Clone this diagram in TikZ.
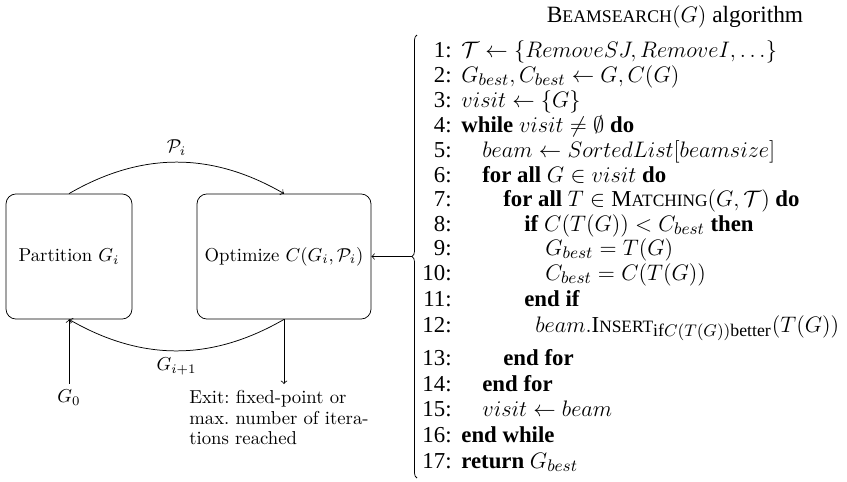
\documentclass[tikz,border=0pt]{standalone}
\usepackage{amsmath}
\usepackage[no-math]{fontspec}
\newfontfamily\algfont{Liberation Serif}
\newfontfamily\algsc[Scale=0.76]{Liberation Serif}
\usetikzlibrary{decorations.pathreplacing}
% small capitals built from full and scaled capitals
\newcommand{\smallcaps}[2]{\mbox{#1{\algsc #2}}}

\tikzset{
  box/.style={draw, rounded corners=5.3pt, minimum height=66.9pt, inner sep=0pt},
  conn/.style={->, line width=0.4pt},
  exitnote/.style={anchor=north west, inner xsep=0pt, inner ysep=3.2pt,
    align=left, font=\fontsize{10}{11}\selectfont\frenchspacing},
  algnum/.style={anchor=base east, inner sep=0pt, font=\algfont\fontsize{12.2}{14}\selectfont},
  algline/.style={anchor=base west, inner sep=0pt, font=\algfont\fontsize{12.2}{14}\selectfont},
  algtitle/.style={anchor=base, inner sep=0pt, font=\algfont\fontsize{12.5}{15}\selectfont}
}

\begin{document}
\begin{tikzpicture}[x=0.535pt, y=-0.535pt]
\useasboundingbox (0,0) rectangle (847,482);

% the iteration loop
\node[box, minimum width=67.4pt] (part) at (69,256.5) {Partition $G_i$};
\node[box, minimum width=93.1pt] (opt) at (284,256.5) {Optimize $C(G_i,\mathcal{P}_i)$};
\draw[conn] (part.north) to[bend left=30] node[above] {$\mathcal{P}_i$} (opt.north);
\draw[conn] (opt.south) to[bend left=30] node[below] {$G_{i+1}$} (part.south);
\node (g0) at (69,398) {$G_0$};
\draw[conn] (g0) -- (part.south);
\node[exitnote] (exit) at (189,384) {Exit: fixed-point or\\max. number of itera-\\tions reached};
\draw[conn] (opt.south) -- (opt.south |- exit.north);

% brace gathering the algorithm
\coordinate (brtop) at (417,35);
\coordinate (brbot) at (417,478);
\coordinate (brtip) at (412,256.5);
\draw[decorate, decoration={brace, amplitude=2.7pt}] (brbot) -- (brtop);
\draw[conn] (brtip) -- (opt.east);

% the algorithm
\node[algtitle] (title) at (675,22) {\smallcaps{B}{EAMSEARCH}$(G)$ algorithm};

\node[algnum] (n1) at (452,57) {1:};
\node[algline] (l1) at (461,57) {$\mathcal{T} \leftarrow \{RemoveSJ, RemoveI, \ldots\}$};
\node[algnum] (n2) at (452,82) {2:};
\node[algline] (l2) at (461,82) {$G_{best}, C_{best} \leftarrow G, C(G)$};
\node[algnum] (n3) at (452,107) {3:};
\node[algline] (l3) at (461,107) {$visit \leftarrow \{G\}$};
\node[algnum] (n4) at (452,132) {4:};
\node[algline] (l4) at (461,132) {\textbf{while} $visit \neq \emptyset$ \textbf{do}};
\node[algnum] (n5) at (452,157) {5:};
\node[algline] (l5) at (482,157) {$beam \leftarrow SortedList[beamsize]$};
\node[algnum] (n6) at (452,182) {6:};
\node[algline] (l6) at (482,182) {\textbf{for all} $G \in visit$ \textbf{do}};
\node[algnum] (n7) at (452,206) {7:};
\node[algline] (l7) at (503,206) {\textbf{for all} $T \in \smallcaps{M}{ATCHING}(G, \mathcal{T})$ \textbf{do}};
\node[algnum] (n8) at (452,231) {8:};
\node[algline] (l8) at (524,231) {\textbf{if} $C(T(G)) < C_{best}$ \textbf{then}};
\node[algnum] (n9) at (452,255) {9:};
\node[algline] (l9) at (545,255) {$G_{best} = T(G)$};
\node[algnum] (n10) at (452,280) {10:};
\node[algline] (l10) at (545,280) {$C_{best} = C(T(G))$};
\node[algnum] (n11) at (452,306) {11:};
\node[algline] (l11) at (524,306) {\textbf{end if}};
\node[algnum] (n12) at (452,332) {12:};
\node[algline] (l12) at (535,332) {$beam.\smallcaps{I}{NSERT}_{\mbox{\algfont\fontsize{9.5}{10}\selectfont if$C(T(G))$better}}(T(G))$};
\node[algnum] (n13) at (452,365) {13:};
\node[algline] (l13) at (503,365) {\textbf{end for}};
\node[algnum] (n14) at (452,391) {14:};
\node[algline] (l14) at (482,391) {\textbf{end for}};
\node[algnum] (n15) at (452,416) {15:};
\node[algline] (l15) at (482,416) {$visit \leftarrow beam$};
\node[algnum] (n16) at (452,442) {16:};
\node[algline] (l16) at (461,442) {\textbf{end while}};
\node[algnum] (n17) at (452,468) {17:};
\node[algline] (l17) at (461,468) {\textbf{return} $G_{best}$};
\end{tikzpicture}
\end{document}
